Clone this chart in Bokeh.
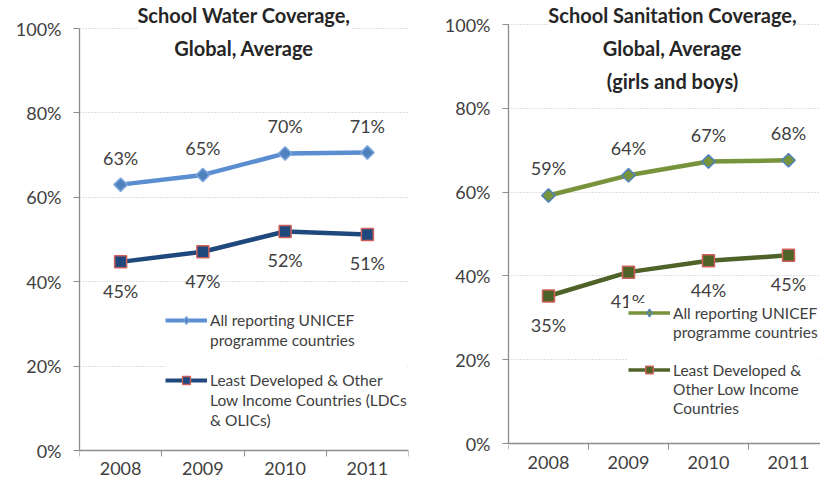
import math
from bokeh.plotting import figure
from bokeh.models import Range1d, FixedTicker, PrintfTickFormatter, Legend, LegendItem, Label
from bokeh.layouts import row
from bokeh.embed import file_html
from bokeh.resources import INLINE
from bokeh.core.properties import value

# ---- data ----
years = ["2008", "2009", "2010", "2011"]
water_all = [63.0, 65.3, 70.4, 70.6]
water_ldc = [44.7, 47.1, 51.9, 51.2]
san_all = [59.2, 64.0, 67.3, 67.6]
san_ldc = [35.2, 40.9, 43.6, 44.9]
y_ticks = [0, 20, 40, 60, 80, 100]

water_title = "School Water Coverage,\nGlobal, Average"
san_title = "School Sanitation Coverage,\nGlobal, Average\n(girls and boys)"
leg_all = ["All reporting UNICEF", "programme countries"]
leg_ldc_water = ["Least Developed & Other", "Low Income Countries (LDCs", "& OLICs)"]
leg_ldc_san = ["Least Developed &", "Other Low Income", "Countries"]

FONT = "Lato"
TXT = "#404040"
AXIS = "#8C8C8C"
GRID = "#BFBFBF"
NAN = float("nan")

xpos = [i + 1 for i in range(len(years))]
bounds = [i + 0.5 for i in range(len(years) + 1)]


def make_fig(width, height, bl, br, xend, px_top, px_zero, xstand):
    # frame fills the figure vertically; 100% sits px_top from the top, 0% at px_zero
    scale = (px_zero - px_top) / 100.0
    y0 = -(height - px_zero) / scale
    y1 = 100 + px_top / scale
    p = figure(width=width, height=height, x_range=Range1d(0.5, xend), y_range=Range1d(y0, y1),
               output_backend="svg", toolbar_location=None,
               min_border_left=bl, min_border_right=br, min_border_top=0, min_border_bottom=0)
    p.outline_line_color = None
    p.xgrid.grid_line_color = None
    p.ygrid.ticker = FixedTicker(ticks=y_ticks)
    p.ygrid.grid_line_color = GRID
    p.ygrid.grid_line_dash = "1 2"
    p.ygrid.grid_line_width = 1
    p.yaxis.ticker = FixedTicker(ticks=y_ticks)
    p.yaxis.formatter = PrintfTickFormatter(format="%d%%")
    p.yaxis.bounds = (0, 100)
    p.yaxis.minor_tick_line_color = None
    p.yaxis.major_tick_out = 6
    p.yaxis.major_tick_in = 0
    p.yaxis.major_tick_line_color = AXIS
    p.yaxis.major_label_standoff = 12
    p.xaxis.fixed_location = 0
    p.xaxis.ticker = FixedTicker(ticks=xpos, minor_ticks=bounds)
    p.xaxis.major_label_overrides = {x: y for x, y in zip(xpos, years)}
    p.xaxis.major_tick_line_color = None
    p.xaxis.major_tick_out = 6
    p.xaxis.major_tick_in = 0
    p.xaxis.minor_tick_out = 6
    p.xaxis.minor_tick_in = 0
    p.xaxis.minor_tick_line_color = AXIS
    p.xaxis.major_label_standoff = xstand
    for ax in (p.xaxis, p.yaxis):
        ax.axis_line_color = AXIS
        ax.axis_line_width = 1.3
        ax.major_label_text_font = FONT
        ax.major_label_text_font_size = "18px"
        ax.major_label_text_color = TXT
    return p


def add_series(p, vals, line_color, marker, fill, border, msize, angle, yoff):
    p.line(xpos, vals, line_color=line_color, line_width=4.5)
    p.scatter(xpos, vals, marker=marker, size=msize, angle=angle,
              fill_color=fill, line_color=border, line_width=1.5)
    p.text(xpos, vals, text=[f"{v:.0f}%" for v in vals], text_font=value(FONT),
           text_font_size="18px", text_color=TXT, text_align="center",
           text_baseline="middle", y_offset=yoff)


def legend_glyph(p, line_color, lw, marker, fill, border, msize):
    # legend-only swatch renderers (NaN row: nothing drawn in the plot)
    r1 = p.line([NAN], [NAN], line_color=line_color, line_width=lw)
    r2 = p.scatter([NAN], [NAN], marker=marker, size=msize, fill_color=fill,
                   line_color=border, line_width=1.3)
    return [r1, r2]


def add_legend(p, entries, loc, row_h):
    items = []
    for k, (lines, rends) in enumerate(entries):
        if k > 0:
            items.append(LegendItem(label=" ", renderers=[]))
        items.append(LegendItem(label=lines[0], renderers=rends))
        for ln in lines[1:]:
            items.append(LegendItem(label=ln, renderers=[]))
    lg = Legend(items=items, location=loc, padding=0, margin=0, spacing=0,
                glyph_width=42, glyph_height=row_h, label_height=row_h, label_standoff=3,
                background_fill_color="white", background_fill_alpha=1,
                border_line_color=None, label_text_font=FONT,
                label_text_font_size="15.5px", label_text_color=TXT)
    p.add_layout(lg)


def add_title(p, text, x, y):
    p.add_layout(Label(x=x, y=y, text=text, text_font=FONT, text_font_size="20px",
                       text_font_style="bold", text_color="#262626", text_align="center",
                       text_baseline="middle", text_line_height=1.38,
                       background_fill_color="white", background_fill_alpha=1))


H = 477

# ---- left: water ----
p1 = make_fig(412, H, 79, 4, 4.5, 28, 450, 5)
add_series(p1, water_all, "#5A8ED0", "square", "#4F81BD", "#7BA7DE", 9.5, math.pi / 4, -27)
add_series(p1, water_ldc, "#1F497D", "square", "#1F497D", "#D0605C", 12, 0, 29)
lw_all = legend_glyph(p1, "#5A8ED0", 4, "diamond", "#4F81BD", "#7BA7DE", 11)
lw_ldc = legend_glyph(p1, "#1F497D", 4, "square", "#1F497D", "#D0605C", 9)
add_legend(p1, [(leg_all, lw_all), (leg_ldc_water, lw_ldc)], (86, H - 430), 20)
add_title(p1, water_title, 2.5, 99.3)

# ---- right: sanitation ----
p2 = make_fig(408, H, 96, 0, 0.5 + 312 / 80.0, 24, 443, 6)
add_series(p2, san_all, "#77933C", "square", "#77933C", "#4F81BD", 9.5, math.pi / 4, -27)
add_series(p2, san_ldc, "#4F6228", "square", "#4F6228", "#D0605C", 12, 0, 29)
ls_all = legend_glyph(p2, "#77933C", 3.5, "diamond", "#77933C", "#4F81BD", 10)
ls_ldc = legend_glyph(p2, "#4F6228", 3.5, "square", "#4F6228", "#D0605C", 9)
add_legend(p2, [(leg_all, ls_all), (leg_ldc_san, ls_ldc)], (120, H - 417), 19)
add_title(p2, san_title, 2.55, 94.4)

layout = row(p1, p2, spacing=0)
open("out.html", "w").write(file_html(layout, INLINE))
